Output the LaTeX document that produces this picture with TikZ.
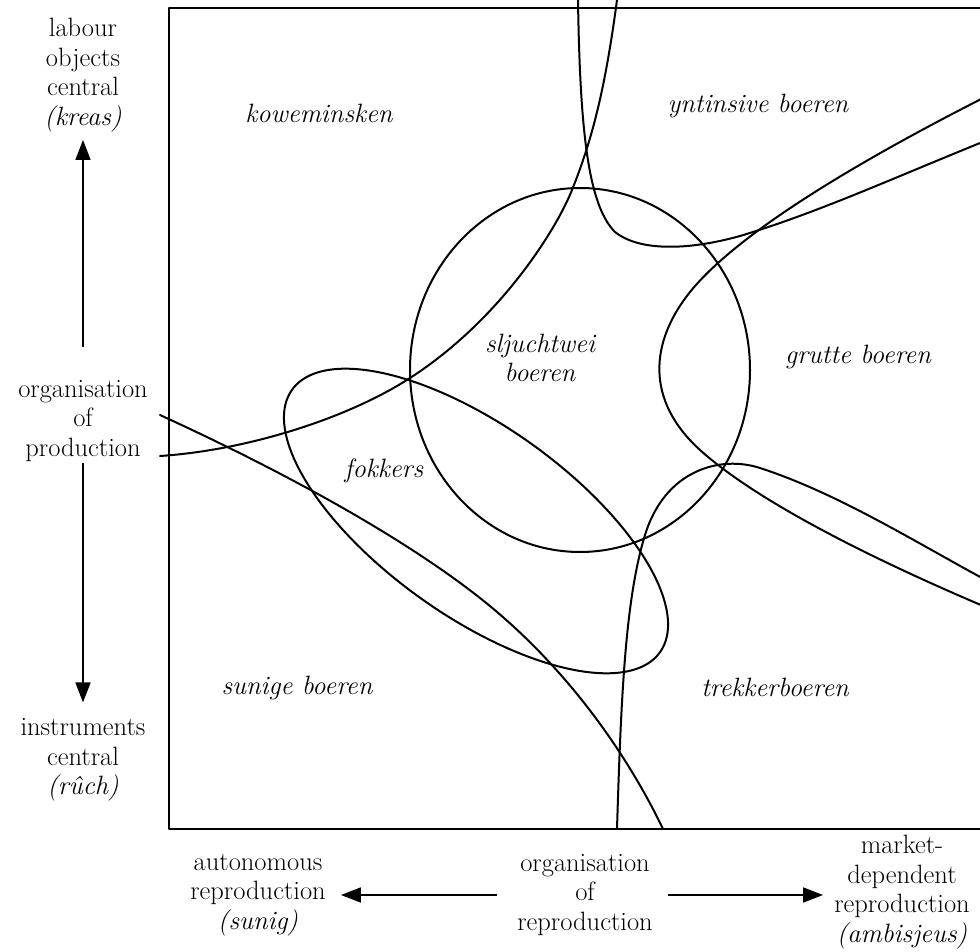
\documentclass[tikz,border=0pt]{standalone}
\usepackage{fontspec}
\usetikzlibrary{arrows.meta}
\begin{document}
\begin{tikzpicture}[x=1pt,y=-1pt, line join=round,
  curve/.style={line width=2pt, line cap=round},
  lab/.style={font=\fontsize{26.5}{29.5}\selectfont, align=center, inner sep=0pt},
  reg/.style={font=\fontsize{26.5}{29.5}\selectfont\itshape, align=center, inner sep=0pt},
  axarrow/.style={line width=1.8pt, -{Triangle[width=15pt,length=20pt]}}]
\useasboundingbox (0,0) rectangle (980,952);
\begin{scope}
\clip (0,0) rectangle (980,952);
% frame (right side lies outside the picture)
\draw[line width=2pt] (1000,8) -- (169,8) -- (169,829) -- (1000,829);
% circle
\draw[curve] (580,370) ellipse [x radius=170, y radius=182];
% fokkers ellipse
\draw[curve] plot[domain=0:360, samples=120, smooth]
  ({476 + 226*cos(\x)*cos(35.5) - 95*sin(\x)*sin(35.5)},
   {521 + 226*cos(\x)*sin(35.5) + 95*sin(\x)*cos(35.5)});
% line A
\draw[curve] (578,0) .. controls (580,130) and (588,205) .. (615,232)
  .. controls (640,252) and (690,250) .. (740,236)
  .. controls (820,212) and (900,175) .. (995,137);
% line B
\draw[curve] (617,0) .. controls (605,90) and (592,140) .. (572,190)
  .. controls (556,230) and (500,320) .. (410,378)
  .. controls (350,417) and (250,450) .. (160,456);
% line C
\draw[curve] (995,92) .. controls (870,155) and (740,230) .. (690,292)
  .. controls (650,342) and (645,400) .. (700,450)
  .. controls (750,495) and (850,550) .. (995,611);
% line D
\draw[curve] (617,829) .. controls (621,700) and (625,600) .. (645,535)
  .. controls (665,470) and (720,455) .. (760,468)
  .. controls (840,494) and (920,545) .. (995,585);
% line E
\draw[curve] (160,415) .. controls (280,470) and (400,535) .. (480,598)
  .. controls (570,669) and (630,760) .. (663,829);
\end{scope}
% region labels
\node[reg] (kowe) at (319,113) {koweminsken};
\node[reg] (yntin) at (758,106) {yntinsive boeren};
\node[reg] (sljucht) at (540,358) {sljuchtwei\\boeren};
\node[reg] (grutte) at (858,357) {grutte boeren};
\node[reg] (fokk) at (384,471) {fokkers};
\node[reg] (sunige) at (297,688) {sunige boeren};
\node[reg] (trekker) at (775,687) {trekkerboeren};
% axis labels
\node[lab] (kreas) at (83,75) {labour\\objects\\central\\\textit{(kreas)}};
\node[lab] (prod) at (83,421) {organisation\\of\\production};
\node[lab] (ruch) at (83,760) {instruments\\central\\\textit{(rûch)}};
\node[lab] (sunig) at (258,895) {autonomous\\reproduction\\\textit{(sunig)}};
\node[lab] (repro) at (585,895) {organisation\\of\\reproduction};
\node[lab] (ambis) at (902,892) {market-\\dependent\\reproduction\\\textit{(ambisjeus)}};
% axis arrows
\draw[axarrow, shorten <=33pt, shorten >=8pt] (prod.north) -- (prod.north |- kreas.south);
\draw[axarrow, shorten <=1pt, shorten >=16pt] (prod.south) -- (prod.south |- ruch.north);
\draw[axarrow, shorten <=20pt, shorten >=15pt] (repro.west) -- (repro.west -| sunig.east);
\draw[axarrow, shorten <=15pt, shorten >=11pt] (repro.east) -- (repro.east -| ambis.west);
\end{tikzpicture}
\end{document}
